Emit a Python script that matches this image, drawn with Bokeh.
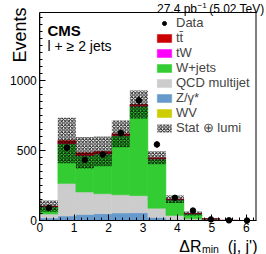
import numpy as np
from bokeh.plotting import figure
from bokeh.models import (Range1d, SingleIntervalTicker, Label, Legend, LegendItem,
                          ColumnDataSource, BoxAnnotation)
from bokeh.embed import file_html
from bokeh.resources import INLINE

# ---- data ----
edges = [0.0, 0.5236, 1.0472, 1.5708, 2.0944, 2.6180, 3.1416,
         3.6652, 4.1888, 4.7124, 5.2360, 5.7596, 6.2832]
wv     = [0.3, 1.5, 1.5, 1.5, 1.5, 1.5, 1.0, 0.3, 0.1, 0.0, 0.0, 0.0]
zgamma = [18, 30, 42, 47, 52, 53, 20, 7, 2, 0.5, 0, 0]
qcd    = [28, 232, 160, 143, 130, 123, 66, 29, 10, 2, 0, 0]
wjets  = [53, 285, 260, 284, 422, 640, 353, 113, 37, 9, 1, 0]
tw     = [0.5, 2, 2, 2, 2, 1.5, 1, 0.3, 0.1, 0, 0, 0]
ttbar  = [3, 21, 18, 16, 11, 9, 7, 2, 1, 0, 0, 0]
data   = [90, 519, 433, 471, 624, 857, 543, 162, 71, 8, 1, 0]
unc    = [40, 162, 112, 107, 95, 100, 47, 26, 14, 4, 1, 0]
y_max = 1485
y_ticks_interval = 500
x_ticks_interval = 1

FONT = "Liberation Sans"

# ---- pixel layout of the plot box inside the canvas ----
W, H = 266, 254
BOX_L, BOX_R, BOX_T, BOX_B = 39.3, 255.5, 12, 220
x_lo, x_hi = edges[0], edges[-1]
sx = (BOX_R - BOX_L) / (x_hi - x_lo)
sy = (BOX_B - BOX_T) / y_max
xr = Range1d(x_lo - BOX_L / sx, x_hi + (W - BOX_R) / sx)
yr = Range1d(0 - (H - BOX_B) / sy, y_max + BOX_T / sy)

lo = np.array(edges[:-1])
hi = np.array(edges[1:])
ctr = (lo + hi) / 2

p = figure(width=W, height=H, output_backend="svg", toolbar_location=None,
           x_range=xr, y_range=yr, min_border=0)
p.min_border_left = 0
p.min_border_right = 0
p.min_border_top = 0
p.min_border_bottom = 0
p.title.visible = False
p.xgrid.visible = False
p.ygrid.visible = False
p.outline_line_color = None
p.background_fill_color = "white"
p.border_fill_color = "white"

p.xaxis.ticker = SingleIntervalTicker(interval=x_ticks_interval, num_minor_ticks=5)
p.yaxis.ticker = SingleIntervalTicker(interval=y_ticks_interval, num_minor_ticks=10)
p.xaxis.fixed_location = 0
p.yaxis.fixed_location = 0
p.xaxis.bounds = (x_lo, x_hi)
p.yaxis.bounds = (0, y_max)
for ax in (p.xaxis[0], p.yaxis[0]):
    ax.major_tick_in = 6
    ax.major_tick_out = 0
    ax.minor_tick_in = 3
    ax.minor_tick_out = 0
    ax.axis_line_color = "black"
    ax.major_tick_line_color = "black"
    ax.minor_tick_line_color = "black"
    ax.major_label_text_font = FONT
    ax.major_label_text_font_size = "12px"
    ax.major_label_text_color = "black"
p.xaxis.major_label_standoff = 2
p.yaxis.major_label_standoff = 3

# ---- stacked histogram ----
stack = [("WV", wv, "#cccc00"), ("Z/γ*", zgamma, "#6699cc"),
         ("QCD multijet", qcd, "#cccccc"), ("W+jets", wjets, "#33cc33"),
         ("tW", tw, "#ff00ff"), ("tt̄", ttbar, "#cc0000")]
cum = np.zeros(len(lo))
rends = {}
for name, vals, color in stack:
    v = np.array(vals, dtype=float)
    src = ColumnDataSource(dict(left=lo, right=hi, bottom=cum.copy(), top=cum + v))
    r = p.quad(left="left", right="right", bottom="bottom", top="top", source=src,
               fill_color=color, line_color=color, line_width=0.5)
    rends[name] = r
    cum = cum + v

u = np.array(unc, dtype=float)
band_src = ColumnDataSource(dict(left=lo, right=hi, bottom=cum - u, top=cum + u))
r_band = p.quad(left="left", right="right", bottom="bottom", top="top", source=band_src,
                fill_alpha=0, line_color=None, hatch_pattern="x", hatch_color="black",
                hatch_scale=3.5, hatch_weight=1, hatch_alpha=0.9)

d = np.array(data, dtype=float)
err = np.sqrt(d)
dsrc = ColumnDataSource(dict(x=ctr, y=d, y0=d - err, y1=d + err))
p.segment(x0="x", y0="y0", x1="x", y1="y1", source=dsrc, line_color="black", line_width=1.2)
r_data = p.scatter(x="x", y="y", source=dsrc, size=5.5, color="black")

# plot box outline
p.add_layout(BoxAnnotation(left=x_lo, right=x_hi, bottom=0, top=y_max,
                           fill_alpha=0, line_color="black", line_width=1, line_alpha=1))

items = [LegendItem(label="Data", renderers=[r_data])]
for name in ["tt̄", "tW", "W+jets", "QCD multijet", "Z/γ*", "WV"]:
    items.append(LegendItem(label=name, renderers=[rends[name]]))
items.append(LegendItem(label="Stat ⊕ lumi", renderers=[r_band]))
legend = Legend(items=items, location=(155, 119), glyph_width=18, glyph_height=10,
                label_height=10, label_standoff=3, spacing=-4, padding=0, margin=0,
                border_line_color=None, background_fill_alpha=0,
                label_text_font=FONT, label_text_font_size="13px")
p.add_layout(legend)

def lab(text, x, y, size, align="left", baseline="alphabetic", angle=0, style="normal"):
    # x, y: canvas pixels from the left / top edge
    p.add_layout(Label(text=text, x=x, y=H - y, x_units="screen", y_units="screen",
                       text_font=FONT, text_font_size=size, text_align=align,
                       text_baseline=baseline, angle=angle, text_font_style=style,
                       text_color="black"))

lab("CMS", 47, 30, "15px", style="bold")
lab("l + ≥ 2 jets", 47, 45.5, "14px")
lab("Events", 19, 7, "18px", align="right", angle=np.pi / 2)
lab("ΔR", 201, 246, "16px", align="right")
lab("min", 201.5, 248.5, "10.5px")
lab("(j, j')", 257, 246, "16px", align="right")
lab("(5.02 TeV)", 264, 8.5, "12px", align="right")
lab("27.4 pb", 196.5, 8.5, "12px", align="right")
lab("−1", 197, 4.5, "8px")

open("out.html", "w").write(file_html(p, INLINE))
